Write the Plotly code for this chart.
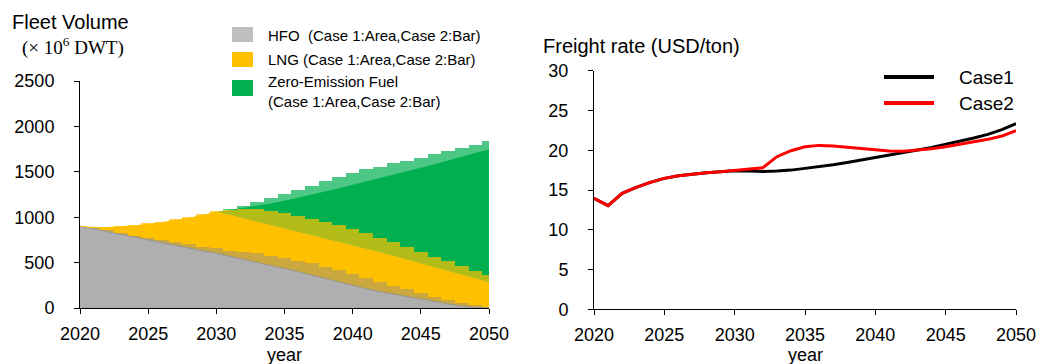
import plotly.graph_objects as go

years = list(range(2020, 2051))

# Case 1 (areas), 10^6 DWT
hfo_case1 = [903, 872, 842, 812, 781, 750, 720, 690, 660, 630, 603, 570, 537, 503, 470, 437,
             400, 362, 323, 285, 246, 212, 180, 150, 125, 100, 70, 45, 22, 6, 0]
lng_case1 = [0, 21, 51, 86, 129, 175, 225, 278, 335, 395, 457, 453, 449, 446, 442, 438,
             439, 441, 444, 446, 449, 443, 435, 424, 408, 392, 380, 363, 344, 319, 283]
zero_case1 = [0, 0, 0, 0, 0, 0, 0, 0, 0, 0, 0, 57, 116, 177, 240, 307,
              376, 446, 517, 589, 663, 739, 816, 895, 974, 1053, 1134, 1216, 1298, 1380, 1464]

# Case 2 (bars), 10^6 DWT
hfo_case2 = [895, 884, 859, 822, 796, 774, 749, 723, 701, 675, 657, 631, 620, 602, 576, 547,
             517, 492, 455, 418, 374, 334, 290, 242, 205, 169, 125, 88, 59, 33, 15]
lng_case2 = [5, 11, 36, 78, 118, 158, 202, 253, 297, 360, 411, 448, 470, 488, 494, 498,
             498, 493, 495, 494, 496, 488, 484, 481, 470, 451, 440, 429, 403, 378, 348]
zero_case2 = [0, 0, 0, 0, 0, 0, 0, 0, 0, 0, 0, 11, 33, 73, 137, 207,
              284, 362, 448, 534, 620, 705, 782, 870, 947, 1035, 1127, 1208, 1300, 1387, 1476]

# Freight rate, USD/ton
freight_case1 = [13.95, 13.03, 14.58, 15.33, 15.96, 16.46, 16.8, 17.0, 17.18, 17.3, 17.43,
                 17.39, 17.34, 17.39, 17.5, 17.72, 17.93, 18.18, 18.47, 18.77, 19.06,
                 19.35, 19.69, 20.03, 20.36, 20.74, 21.11, 21.53, 22.0, 22.6, 23.35]
freight_case2 = [13.95, 13.03, 14.58, 15.33, 15.96, 16.46, 16.8, 17.0, 17.18, 17.3, 17.45,
                 17.6, 17.8, 19.19, 19.94, 20.44, 20.61, 20.53, 20.36, 20.19, 20.03,
                 19.9, 19.86, 19.98, 20.19, 20.44, 20.74, 21.03, 21.37, 21.78, 22.45]

fuel_names = ["HFO\u00a0 (Case 1:Area,Case 2:Bar)", "LNG (Case 1:Area,Case 2:Bar)",
              "Zero-Emission Fuel<br>(Case 1:Area,Case 2:Bar)"]
case_names = ["Case1", "Case2"]

W, H = 1040, 364
FONT = "Liberation Sans, Arial, sans-serif"

def px(x):
    return x / W

def py(y):
    return (H - y) / H

fig = go.Figure()

# Case 1 areas (opaque, underneath)
area_colors = ["#cdcdcd", "#ffc000", "#00b050"]
area_line_w = [1, 0, 0]
area_line_c = ["rgba(150,150,150,0.9)", "rgba(0,0,0,0)", "rgba(0,0,0,0)"]
for vals, col, lw, lc in zip([hfo_case1, lng_case1, zero_case1], area_colors, area_line_w, area_line_c):
    fig.add_trace(go.Scatter(x=years, y=vals, mode="lines", stackgroup="case1",
                             line=dict(width=lw, color=lc),
                             fillcolor=col, showlegend=False, hoverinfo="skip",
                             xaxis="x", yaxis="y"))

# Case 2 bars (semi-transparent, on top via overlay axes)
bar_colors = ["rgba(140,140,140,0.45)", "rgba(255,192,0,0.7)", "rgba(0,176,80,0.7)"]
for vals, col in zip([hfo_case2, lng_case2, zero_case2], bar_colors):
    fig.add_trace(go.Bar(x=years, y=vals, width=1, marker=dict(color=col, line=dict(width=0)),
                         showlegend=False, hoverinfo="skip", xaxis="x3", yaxis="y3"))

# Freight rate lines
fig.add_trace(go.Scatter(x=years, y=freight_case1, mode="lines", name=case_names[0],
                         line=dict(color="#000000", width=3), showlegend=False,
                         xaxis="x2", yaxis="y2"))
fig.add_trace(go.Scatter(x=years, y=freight_case2, mode="lines", name=case_names[1],
                         line=dict(color="#ff0000", width=3), showlegend=False,
                         xaxis="x2", yaxis="y2"))

tickfont = dict(family=FONT, size=18, color="#000000")
axis_common = dict(showline=True, linecolor="#000000", linewidth=1, ticks="outside",
                   ticklen=5, tickcolor="#000000", tickwidth=1, showgrid=False,
                   zeroline=False, tickfont=tickfont, automargin=False)

left_x = [px(80), px(489)]
left_y = [py(308), py(81)]
right_x = [px(594), px(1016)]
right_y = [py(309.3), py(70.7)]

fig.update_layout(
    width=W, height=H,
    margin=dict(l=0, r=0, t=0, b=0, autoexpand=False),
    paper_bgcolor="white", plot_bgcolor="rgba(0,0,0,0)",
    barmode="stack", bargap=0,
    showlegend=False,
    xaxis=dict(domain=left_x, range=[2020, 2050], tickvals=list(range(2020, 2051, 5)),
               anchor="y", ticklabelstandoff=4, **axis_common),
    yaxis=dict(domain=left_y, range=[0, 2500], tickvals=list(range(0, 2501, 500)),
               anchor="x", ticklabelstandoff=16, **axis_common),
    xaxis3=dict(overlaying="x", range=[2020, 2050], visible=False, anchor="y3", automargin=False),
    yaxis3=dict(overlaying="y", range=[0, 2500], visible=False, anchor="x3", automargin=False),
    xaxis2=dict(domain=right_x, range=[2020, 2050], tickvals=list(range(2020, 2051, 5)),
                anchor="y2", ticklabelstandoff=4, **axis_common),
    yaxis2=dict(domain=right_y, range=[0, 30], tickvals=list(range(0, 31, 5)),
                anchor="x2", ticklabelstandoff=16, **axis_common),
)

annotations = []
def text(x, y, s, size, family=FONT, xanchor="left", yanchor="middle"):
    annotations.append(dict(x=px(x), y=py(y), xref="paper", yref="paper", text=s,
                            showarrow=False, xanchor=xanchor, yanchor=yanchor, align="left",
                            font=dict(family=family, size=size, color="#000000"),
                            borderpad=0))

text(11, 22, "Fleet Volume", 20)
text(21, 47, "(\u00d7 10<sup>6</sup> DWT)", 19, family="Liberation Serif, Times New Roman, serif")
text(542, 46, "Freight rate (USD/ton)", 20)
text(284.5, 355, "year", 18, xanchor="center")
text(805, 355, "year", 18, xanchor="center")

# Left legend
legend_patch = ["#bfbfbf", "#ffc000", "#00b050"]
patch_y = [(27, 42), (52, 67), (80, 96)]
text_y = [35, 60, 91]
shapes = []
for col, (y0, y1), ty, name in zip(legend_patch, patch_y, text_y, fuel_names):
    shapes.append(dict(type="rect", xref="paper", yref="paper", x0=px(232), x1=px(253),
                       y0=py(y1), y1=py(y0), fillcolor=col, line=dict(width=0)))
    text(267, ty, name, 15)

# Right legend
for col, ly, name in zip(["#000000", "#ff0000"], [77, 103], case_names):
    shapes.append(dict(type="line", xref="paper", yref="paper", x0=px(884), x1=px(934),
                       y0=py(ly), y1=py(ly), line=dict(color=col, width=4)))
    text(958, ly, name, 19)

fig.update_layout(annotations=annotations, shapes=shapes)

fig.write_html("out.html")
